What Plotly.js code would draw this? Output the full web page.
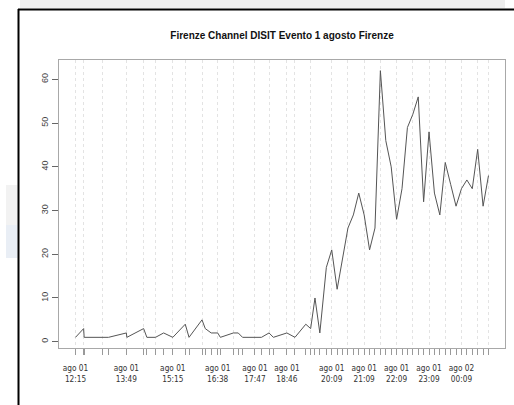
<!DOCTYPE html>
<html>
<head>
<meta charset="utf-8">
<script src="https://cdn.plot.ly/plotly-3.0.1.min.js"></script>
<style>html,body{margin:0;padding:0;background:#fff;}#chart{width:514px;height:405px;}</style>
</head>
<body>
<div id="chart"></div>
<script>
// ---- data ----
const timestamps = [
  "2014-08-01 12:15","2014-08-01 12:30","2014-08-01 12:31","2014-08-01 13:05","2014-08-01 13:16",
  "2014-08-01 13:49","2014-08-01 13:50","2014-08-01 14:21","2014-08-01 14:27","2014-08-01 14:43",
  "2014-08-01 14:58","2014-08-01 15:15","2014-08-01 15:38","2014-08-01 15:45","2014-08-01 16:09",
  "2014-08-01 16:15","2014-08-01 16:26","2014-08-01 16:38","2014-08-01 16:43","2014-08-01 17:07",
  "2014-08-01 17:16","2014-08-01 17:24","2014-08-01 17:47","2014-08-01 17:59","2014-08-01 18:13",
  "2014-08-01 18:21","2014-08-01 18:46","2014-08-01 19:01","2014-08-01 19:21","2014-08-01 19:30",
  "2014-08-01 19:38","2014-08-01 19:47","2014-08-01 19:59","2014-08-01 20:09","2014-08-01 20:19",
  "2014-08-01 20:29","2014-08-01 20:39","2014-08-01 20:49","2014-08-01 20:59","2014-08-01 21:09",
  "2014-08-01 21:19","2014-08-01 21:29","2014-08-01 21:39","2014-08-01 21:49","2014-08-01 21:59",
  "2014-08-01 22:09","2014-08-01 22:19","2014-08-01 22:29","2014-08-01 22:39","2014-08-01 22:49",
  "2014-08-01 22:59","2014-08-01 23:09","2014-08-01 23:19","2014-08-01 23:29","2014-08-01 23:39",
  "2014-08-01 23:49","2014-08-01 23:59","2014-08-02 00:09","2014-08-02 00:19","2014-08-02 00:29",
  "2014-08-02 00:39","2014-08-02 00:49","2014-08-02 00:59"
];
const counts = [
  1,3,1,1,1,
  2,1,3,1,1,
  2,1,4,1,5,
  3,2,2,1,2,
  2,1,1,1,2,
  1,2,1,4,3,
  10,2,17,21,12,
  19,26,29,34,29,
  21,26,62,46,40,
  28,35,49,52,56,
  32,48,34,29,41,
  36,31,35,37,35,
  44,31,38
];
// major ticks (first observation of each half hour) -> dotted grid
const majorTicks = [
  "2014-08-01 12:15","2014-08-01 12:30","2014-08-01 13:05","2014-08-01 13:49","2014-08-01 14:21",
  "2014-08-01 14:43","2014-08-01 15:15","2014-08-01 15:38","2014-08-01 16:09","2014-08-01 16:38",
  "2014-08-01 17:07","2014-08-01 17:47","2014-08-01 18:13","2014-08-01 18:46","2014-08-01 19:01",
  "2014-08-01 19:30","2014-08-01 20:09","2014-08-01 20:39","2014-08-01 21:09","2014-08-01 21:39",
  "2014-08-01 22:09","2014-08-01 22:39","2014-08-01 23:09","2014-08-01 23:39","2014-08-02 00:09",
  "2014-08-02 00:39","2014-08-02 00:59"
];
const labelTicks = [
  "2014-08-01 12:15","2014-08-01 13:49","2014-08-01 15:15","2014-08-01 16:38","2014-08-01 17:47",
  "2014-08-01 18:46","2014-08-01 20:09","2014-08-01 21:09","2014-08-01 22:09","2014-08-01 23:09",
  "2014-08-02 00:09"
];
const labelText = [
  "ago 01<br>12:15","ago 01<br>13:49","ago 01<br>15:15","ago 01<br>16:38","ago 01<br>17:47",
  "ago 01<br>18:46","ago 01<br>20:09","ago 01<br>21:09","ago 01<br>22:09","ago 01<br>23:09",
  "ago 02<br>00:09"
];
const yTicks = [0,10,20,30,40,50,60];
const chartTitle = "Firenze Channel DISIT Evento 1 agosto Firenze";

// ---- ranges (R style 4% padding) ----
function toMs(s){ return new Date(s.replace(" ","T")+":00Z").getTime(); }
function fromMs(m){ return new Date(m).toISOString().replace("T"," ").slice(0,19); }
const tMin = toMs(timestamps[0]), tMax = toMs(timestamps[timestamps.length-1]);
const tPad = (tMax - tMin)*0.04;
const xRange = [fromMs(tMin - tPad), fromMs(tMax + tPad)];
const vMin = Math.min(...counts), vMax = Math.max(...counts);
const vPad = (vMax - vMin)*0.04;
const yRange = [vMin - vPad, vMax + vPad];

// geometry helpers for decoration (pixel -> paper)
const W = 514, H = 405, L = 59, R = 9, T = 60, B = 57;
const pw = W - L - R, ph = H - T - B;
const px = x => (x - L)/pw;
const py = y => (H - B - y)/ph;

const condensed = "'DejaVu Sans Condensed', 'Liberation Sans Narrow', 'Arial Narrow', 'Liberation Sans', Arial, sans-serif";
const tickFont = {family: condensed, size: 8.2, color: "#333"};

// grid ticks: main axis has gridlines at majors, labels only at chosen ones
const majorText = majorTicks.map(t => { const i = labelTicks.indexOf(t); return i >= 0 ? labelText[i] : ""; });

const traces = [
  {x: timestamps, y: counts, type: "scatter", mode: "lines",
   line: {color: "#555555", width: 1}, hoverinfo: "x+y", showlegend: false},
  // invisible trace on xaxis2 to carry minor ticks at every observation
  {x: timestamps, y: counts, xaxis: "x2", type: "scatter", mode: "lines",
   line: {color: "rgba(0,0,0,0)", width: 0}, hoverinfo: "skip", showlegend: false}
];

const layout = {
  width: W, height: H,
  margin: {l: L, r: R, t: T, b: B},
  paper_bgcolor: "#ffffff", plot_bgcolor: "#ffffff",
  showlegend: false,
  title: {text: chartTitle, x: 0.5, xref: "paper", xanchor: "center",
          y: 1 - 35/H, yref: "container", yanchor: "middle",
          font: {family: "'Liberation Sans', Arial, sans-serif", size: 10, color: "#111", weight: "bold"}},
  xaxis: {type: "date", range: xRange, tickmode: "array", tickvals: majorTicks, ticktext: majorText,
          showgrid: true, gridcolor: "#e3e3e3", griddash: "dot", gridwidth: 1,
          zeroline: false, showline: true, mirror: true, linecolor: "#a8a8a8", linewidth: 1,
          ticks: "outside", ticklen: 6, tickcolor: "#666", tickwidth: 1,
          ticklabelstandoff: 6,
          tickfont: tickFont, tickangle: 0, fixedrange: true},
  xaxis2: {type: "date", range: xRange, overlaying: "x", anchor: "y", side: "bottom",
           tickmode: "array", tickvals: timestamps, ticktext: timestamps.map(() => ""),
           showgrid: false, zeroline: false, showline: false,
           ticks: "outside", ticklen: 6, tickcolor: "#999", tickwidth: 1, fixedrange: true},
  yaxis: {range: yRange, tickmode: "array", tickvals: yTicks, ticktext: yTicks.map(String),
          showgrid: false, zeroline: false, showline: true, mirror: true, linecolor: "#a8a8a8", linewidth: 1,
          ticks: "outside", ticklen: 6, tickcolor: "#666", tickwidth: 1,
          tickangle: -90, tickfont: {family: "'Liberation Sans', Arial, sans-serif", size: 9, color: "#444"},
          fixedrange: true},
  shapes: [
    // screenshot frame and surroundings
    {type: "rect", xref: "paper", yref: "paper", x0: px(20), x1: px(505), y0: py(0), y1: py(8),
     fillcolor: "#eeeeee", line: {width: 0}, layer: "below"},
    {type: "rect", xref: "paper", yref: "paper", x0: px(6), x1: px(17.5), y0: py(185), y1: py(225),
     fillcolor: "#f2f2f2", line: {width: 0}, layer: "below"},
    {type: "rect", xref: "paper", yref: "paper", x0: px(6), x1: px(17.5), y0: py(225), y1: py(258),
     fillcolor: "#e9eef5", line: {width: 0}, layer: "below"},
    {type: "line", xref: "paper", yref: "paper", x0: px(18.5), x1: px(18.5), y0: py(405), y1: py(9),
     line: {color: "#000", width: 2}},
    {type: "line", xref: "paper", yref: "paper", x0: px(18), x1: px(514), y0: py(9.5), y1: py(9.5),
     line: {color: "#000", width: 2}}
  ]
};

Plotly.newPlot("chart", traces, layout, {displayModeBar: false, staticPlot: true});
</script>
</body>
</html>
